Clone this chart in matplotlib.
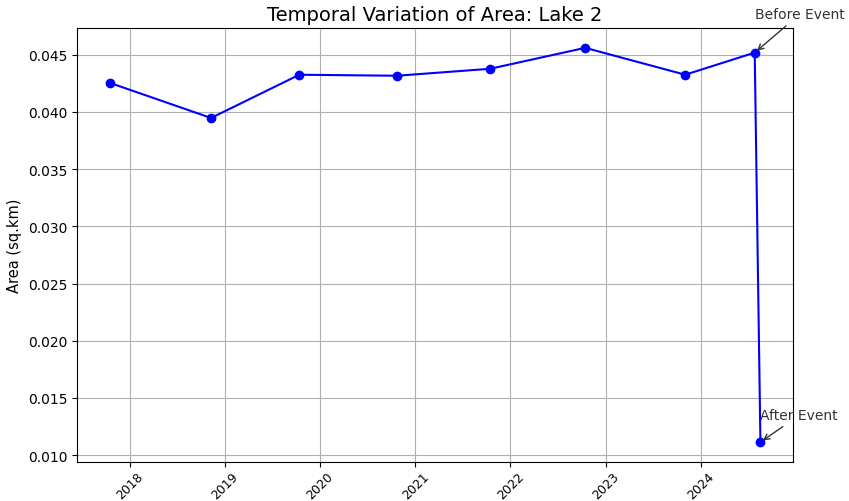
import matplotlib
matplotlib.use('Agg')
import matplotlib.pyplot as plt
import matplotlib.dates as mdates
import pandas as pd

# Lake 2 surface area per acquisition date
dates = ['2017-10-15', '2018-11-08', '2019-10-13', '2020-10-22', '2021-10-15',
         '2022-10-15', '2023-11-03', '2024-07-27', '2024-08-18']
areas = [0.04254, 0.03947, 0.04325, 0.04316, 0.04377,
         0.04560, 0.04325, 0.04518, 0.01114]
lake_name = 'Lake 2'

dates = pd.to_datetime(dates)

fig = plt.figure(figsize=(8.49, 5.02), dpi=100)
ax = fig.add_axes([0.091, 0.078, 0.843, 0.864])

ax.plot(dates, areas, marker='o', color='b', linestyle='-')

# mark the last two acquisitions around the event
ax.annotate('Before Event', xy=(dates[-2], areas[-2]),
            xytext=(dates[-2], areas[-2] + 0.003),
            arrowprops=dict(arrowstyle='->', color='#333333'), fontsize=10, color='#333333')
ax.annotate('After Event', xy=(dates[-1], areas[-1]),
            xytext=(dates[-1], areas[-1] + 0.002),
            arrowprops=dict(arrowstyle='->', color='#333333'), fontsize=10, color='#333333')

ax.set_title(f'Temporal Variation of Area: {lake_name}', fontsize=14)
ax.set_ylabel('Area (sq.km)', fontsize=10.5)
ax.xaxis.set_major_locator(mdates.YearLocator())
ax.xaxis.set_major_formatter(mdates.DateFormatter('%Y'))
ax.tick_params(axis='x', labelsize=9, pad=2)
plt.setp(ax.get_xticklabels(), rotation=45)
ax.grid(True)

fig.savefig('out.png', dpi=100)
